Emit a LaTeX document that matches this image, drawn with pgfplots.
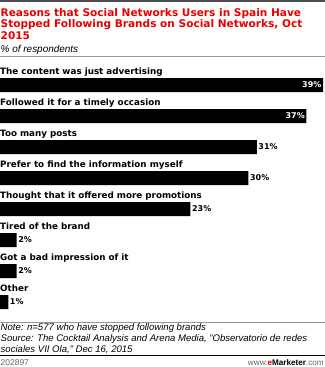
\documentclass[border=0pt]{standalone}
\usepackage{pgfplots}
\pgfplotsset{compat=1.18}
\usepackage{fontspec}
\setmainfont{Liberation Sans}
\newfontfamily\vfont{DejaVu Sans}
\definecolor{emred}{RGB}{230,0,0}
\definecolor{rulegray}{RGB}{150,150,150}

\begin{document}
\begin{tikzpicture}[x=1bp,y=1bp]
\useasboundingbox (0bp,0bp) rectangle (325bp,-367bp);
% top rule
\fill[black!70] (0bp,0bp) rectangle (325bp,-1.5bp);
% title
\begin{scope}[every node/.style={anchor=base west, inner sep=0, text=emred,
    font=\vfont\bfseries\fontsize{10.6}{12}\selectfont}]
  \node at (0.5bp,-16bp) {Reasons that Social Networks Users in Spain Have};
  \node at (0.5bp,-27.5bp) {Stopped Following Brands on Social Networks, Oct};
  \node at (0.5bp,-39bp) {2015};
\end{scope}
\node[anchor=base west, inner sep=0, font=\itshape\fontsize{10}{11}\selectfont] at (0.5bp,-52bp) {\% of respondents};
\draw[rulegray, line width=0.8bp] (0bp,-56.5bp) -- (325bp,-56.5bp);

\begin{axis}[
    at={(0bp,-69.5bp)}, anchor=north west,
    scale only axis, width=325bp, height=248bp,
    xbar, bar width=14bp, bar shift=0pt,
    xmin=0, xmax=39.24, ymin=-0.5, ymax=7.5,
    y dir=reverse, hide axis, clip=false,
    point meta=x,
    /pgf/number format/assume math mode=true,
    nodes near coords={\pgfmathprintnumber{\pgfplotspointmeta}\%},
    every node near coord/.append style={font=\vfont\bfseries\fontsize{8}{9}\selectfont, inner sep=1.5bp},
]
\addplot[fill=black, draw=none,
    every node near coord/.append style={anchor=east, text=white}]
    coordinates {(39,0) (37,1)};
\addplot[fill=black, draw=none,
    every node near coord/.append style={anchor=west, text=black}]
    coordinates {(31,2) (30,3) (23,4) (2,5) (2,6) (1,7)};
\begin{scope}[every node/.style={anchor=base west, inner sep=0, yshift=10.5bp,
    font=\vfont\bfseries\fontsize{8.8}{10}\selectfont}]
  \node at (axis cs:0,0) {The content was just advertising};
  \node at (axis cs:0,1) {Followed it for a timely occasion};
  \node at (axis cs:0,2) {Too many posts};
  \node at (axis cs:0,3) {Prefer to find the information myself};
  \node at (axis cs:0,4) {Thought that it offered more promotions};
  \node at (axis cs:0,5) {Tired of the brand};
  \node at (axis cs:0,6) {Got a bad impression of it};
  \node at (axis cs:0,7) {Other};
\end{scope}
\end{axis}

\draw[rulegray, line width=0.8bp] (0bp,-322bp) -- (325bp,-322bp);
\begin{scope}[every node/.style={anchor=base west, inner sep=0,
    font=\itshape\fontsize{9.6}{11}\selectfont}]
  \node at (0.5bp,-330.5bp) {Note: n=577 who have stopped following brands};
  \node at (0.5bp,-341.5bp) {Source: The Cocktail Analysis and Arena Media, "Observatorio de redes};
  \node at (0.5bp,-352.5bp) {sociales VII Ola," Dec 16, 2015};
\end{scope}
\fill[black] (0bp,-354.5bp) rectangle (325bp,-356bp);
\node[anchor=base west, inner sep=0, text=black!60, font=\fontsize{8.5}{9}\selectfont] at (0.5bp,-365bp) {202897};
\node[anchor=base east, inner sep=0, text=black!60, font=\fontsize{8.2}{9}\selectfont] at (324bp,-365bp)
  {www.\textcolor{emred}{\textbf{e}}\textcolor{black}{\textbf{Marketer}}.com};
\end{tikzpicture}
\end{document}
